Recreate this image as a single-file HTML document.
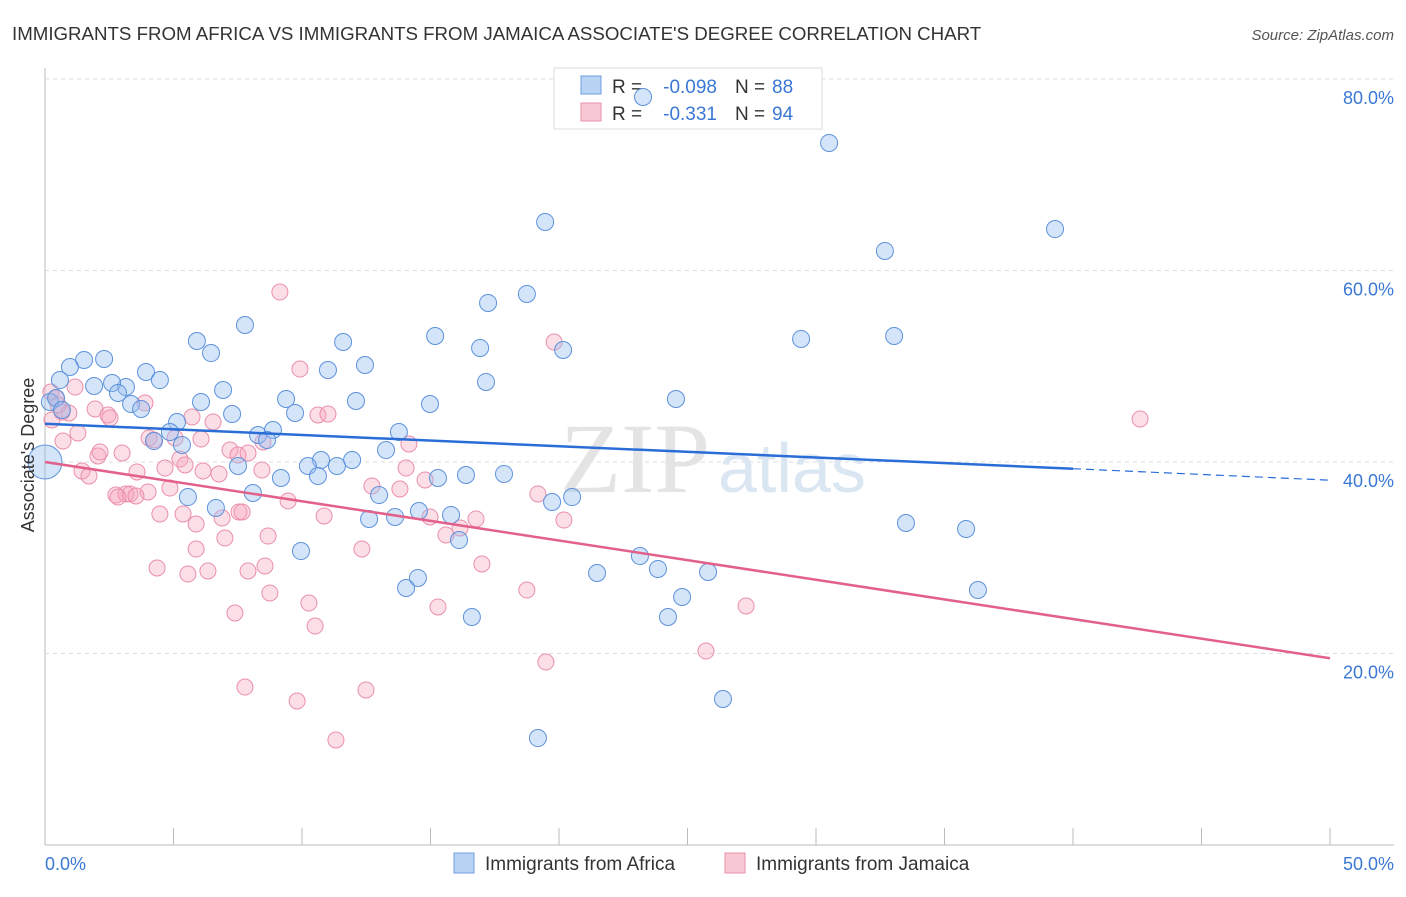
<!DOCTYPE html>
<html><head><meta charset="utf-8"><style>
body{margin:0;background:#fff;font-family:"Liberation Sans",sans-serif}
</style></head><body>
<svg width="1406" height="892" xmlns="http://www.w3.org/2000/svg">
<text x="12" y="40" font-size="18.7" fill="#333">IMMIGRANTS FROM AFRICA VS IMMIGRANTS FROM JAMAICA ASSOCIATE'S DEGREE CORRELATION CHART</text>
<text x="1394" y="40" font-size="15" fill="#555" font-style="italic" text-anchor="end">Source: ZipAtlas.com</text>
<g id="grid"></g>
<text x="560" y="492" font-size="100" fill="#e4e4e4" font-family="Liberation Serif">ZIP</text>
<text x="718" y="492" font-size="70" fill="#dbe6f3">atlas</text>
<g>
<rect x="554" y="68" width="268" height="61" fill="#fff" stroke="#ddd"/>
<rect x="581" y="76" width="20" height="18" fill="#b9d3f5" stroke="#6d9de0"/>
<rect x="581" y="103" width="20" height="18" fill="#f9c6d4" stroke="#e893ac"/>
<text x="612" y="93" font-size="19" fill="#333">R =</text>
<text x="717" y="93" font-size="19" fill="#3a78d4" text-anchor="end">-0.098</text>
<text x="735" y="93" font-size="19" fill="#333">N =</text>
<text x="772" y="93" font-size="19" fill="#3a78d4">88</text>
<text x="612" y="120" font-size="19" fill="#333">R =</text>
<text x="717" y="120" font-size="19" fill="#3a78d4" text-anchor="end">-0.331</text>
<text x="735" y="120" font-size="19" fill="#333">N =</text>
<text x="772" y="120" font-size="19" fill="#3a78d4">94</text>
</g>
<g id="pts"></g>
<g id="lines"></g>
<text transform="translate(34,455) rotate(-90)" font-size="18" fill="#333" text-anchor="middle">Associate's Degree</text>
<text x="45" y="870" font-size="18" fill="#3a78d4">0.0%</text>
<text x="1394" y="870" font-size="18" fill="#3a78d4" text-anchor="end">50.0%</text>
<g>
<rect x="454" y="853" width="20" height="20" fill="#b9d3f5" stroke="#6d9de0"/>
<text x="485" y="870" font-size="19" fill="#333">Immigrants from Africa</text>
<rect x="725" y="853" width="20" height="20" fill="#f9c6d4" stroke="#e893ac"/>
<text x="756" y="870" font-size="19" fill="#333">Immigrants from Jamaica</text>
</g>
</svg>
<script>
const yTicks=[20,40,60,80];
const yTickLabels=["20.0%","40.0%","60.0%","80.0%"];
const xTicks=[0,5,10,15,20,25,30,35,40,45,50];
const bluePx=[[643,97],[829,143],[545,222],[1055,229],[885,251],[527,294],[488,303],[245,325],[435,336],[801,339],[894,336],[197,341],[343,342],[480,348],[563,350],[211,353],[84,360],[104,359],[70,367],[365,365],[328,370],[146,372],[60,380],[94,386],[126,387],[112,383],[160,380],[486,382],[223,390],[118,393],[201,402],[286,399],[356,401],[430,404],[676,399],[131,404],[141,409],[232,414],[295,413],[177,422],[170,432],[258,435],[273,430],[399,432],[154,441],[182,445],[267,440],[386,450],[321,460],[352,460],[238,466],[308,466],[337,466],[281,478],[318,476],[438,478],[466,475],[504,474],[253,493],[379,495],[188,497],[572,497],[552,502],[216,508],[419,511],[451,515],[369,519],[395,517],[459,540],[906,523],[966,529],[301,551],[640,556],[658,569],[597,573],[708,572],[418,578],[406,588],[978,590],[682,597],[472,617],[668,617],[723,699],[538,738],[50,402],[56,398],[62,410]];
const pinkPx=[[280,292],[300,369],[554,342],[1140,419],[318,415],[328,414],[51,392],[56,398],[75,387],[62,412],[69,413],[95,409],[108,415],[110,418],[145,403],[192,417],[213,422],[149,438],[63,441],[78,433],[98,456],[100,452],[122,453],[154,440],[175,438],[201,439],[230,450],[238,455],[248,453],[263,442],[409,444],[180,459],[82,471],[89,476],[137,472],[165,468],[185,465],[203,471],[219,474],[262,470],[406,468],[425,480],[372,486],[400,489],[116,495],[126,494],[130,494],[148,492],[170,488],[288,501],[538,494],[118,497],[136,496],[160,514],[183,514],[196,524],[222,518],[239,512],[242,512],[324,516],[430,517],[476,519],[460,528],[564,520],[446,535],[268,536],[225,538],[196,549],[362,549],[157,568],[188,574],[208,571],[248,571],[265,566],[482,564],[270,593],[309,603],[438,607],[527,590],[746,606],[235,613],[315,626],[706,651],[546,662],[245,687],[366,690],[297,701],[336,740],[58,405],[52,420]];
const blueData=bluePx.map(p=>[+((p[0]-45)/25.7).toFixed(2),+((845-p[1])/9.575).toFixed(2)]);
const pinkData=pinkPx.map(p=>[+((p[0]-45)/25.7).toFixed(2),+((845-p[1])/9.575).toFixed(2)]);
const blueTrend=[[0,44.0],[40,39.3],[50,38.1]];
const pinkTrend=[[0,40.0],[50,19.5]];
const X=v=>45+v*25.7, Y=v=>845-v*9.575;
const NS="http://www.w3.org/2000/svg";
function mk(t,a,parent){const e=document.createElementNS(NS,t);for(const k in a)e.setAttribute(k,a[k]);parent.appendChild(e);return e;}
const g=document.getElementById('grid');
const ax=mk('line',{x1:45,y1:68,x2:45,y2:845,stroke:'#bbb'},g);


const bx=mk('line',{x1:45,y1:845,x2:1394,y2:845,stroke:'#bbb'},g);


yTicks.forEach((t,i)=>{
 const l=mk('line',{x1:45,y1:Y(t),x2:1394,y2:Y(t),stroke:'#ddd','stroke-dasharray':'4 4'},g);
 
 
 const tx=mk('text',{x:1394,y:Y(t)+25,'font-size':18,fill:'#3a78d4','text-anchor':'end'},g);
 tx.textContent=yTickLabels[i];
 
 
});
xTicks.forEach(t=>{
 const l=mk('line',{x1:X(t),y1:828,x2:X(t),y2:845,stroke:'#bbb'},g);
 
 
});
const pg=document.getElementById('pts');
pinkData.forEach(d=>{
 const c=mk('circle',{cx:X(d[0]),cy:Y(d[1]),r:8,fill:'rgba(245,160,185,0.35)',stroke:'#ea8fab','stroke-width':1},pg);
 
 
});
blueData.forEach(d=>{
 const c=mk('circle',{cx:X(d[0]),cy:Y(d[1]),r:8.5,fill:'rgba(150,190,240,0.4)',stroke:'#5d92dc','stroke-width':1},pg);
 
 
});
const big=mk('circle',{cx:X(0),cy:Y(40),r:17,fill:'rgba(150,190,240,0.4)',stroke:'#5d92dc'},pg);


const lg=document.getElementById('lines');
const b1=mk('line',{x1:X(blueTrend[0][0]),y1:Y(blueTrend[0][1]),x2:X(blueTrend[1][0]),y2:Y(blueTrend[1][1]),stroke:'#2a6dd6','stroke-width':2.5},lg);


const b2=mk('line',{x1:X(blueTrend[1][0]),y1:Y(blueTrend[1][1]),x2:X(blueTrend[2][0]),y2:Y(blueTrend[2][1]),stroke:'#2a6dd6','stroke-width':1.2,'stroke-dasharray':'8 5'},lg);


const p1=mk('line',{x1:X(pinkTrend[0][0]),y1:Y(pinkTrend[0][1]),x2:X(pinkTrend[1][0]),y2:Y(pinkTrend[1][1]),stroke:'#e2608a','stroke-width':2.5},lg);


</script>
</body></html>
